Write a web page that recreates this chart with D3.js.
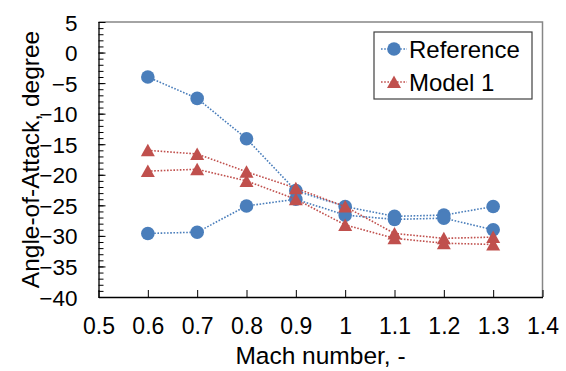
<!DOCTYPE html>
<html>
<head>
<meta charset="utf-8">
<script src="https://cdn.jsdelivr.net/npm/d3@7"></script>
<style>
  body { margin: 0; background: #fff; }
  svg text { font-family: "Liberation Sans", Arial, sans-serif; fill: #000; }
</style>
</head>
<body>
<div id="chart"></div>
<script>
// values
var mach = [0.6, 0.7, 0.8, 0.9, 1.0, 1.1, 1.2, 1.3];
var refUpper = [-4.0, -7.5, -14.1, -22.6, -25.2, -26.8, -26.6, -25.2];
var refLower = [-29.6, -29.4, -25.1, -24.0, -26.6, -27.3, -27.1, -29.0];
var modelUpper = [-16.0, -16.6, -19.5, -22.2, -25.2, -29.6, -30.4, -30.2];
var modelLower = [-19.4, -19.1, -21.0, -24.0, -28.2, -30.4, -31.2, -31.4];
var xTicks = [0.5, 0.6, 0.7, 0.8, 0.9, 1.0, 1.1, 1.2, 1.3, 1.4];
var yTicks = [5, 0, -5, -10, -15, -20, -25, -30, -35, -40];
var seriesNames = ["Reference", "Model 1"];

var width = 566, height = 371;
var pLeft = 98.5, pRight = 542.5, pTop = 22, pBottom = 297;
var blue = "#4A7EBB", red = "#C0504D";

var svg = d3.select("#chart").append("svg")
  .attr("width", width)
  .attr("height", height);

var x = d3.scaleLinear().domain([0.5, 1.4]).range([pLeft, pRight]);
var y = d3.scaleLinear().domain([-40, 5]).range([pBottom, pTop]);

// plot area border (top / right gray)
svg.append("path")
  .attr("d", "M" + pLeft + "," + pTop + "H" + pRight + "V" + pBottom)
  .attr("fill", "none")
  .attr("stroke", "#868686")
  .attr("stroke-width", 1.5);

// y axis: minor + major ticks pointing inside
var yMinor = d3.range(-40, 5.001, 1);
svg.append("g")
  .attr("transform", "translate(" + pLeft + ",0)")
  .call(d3.axisRight(y).tickValues(yMinor).tickSize(5).tickFormat(""))
  .call(function(g) { g.select(".domain").remove(); });

var yAxis = svg.append("g")
  .attr("transform", "translate(" + pLeft + ",0)")
  .call(d3.axisLeft(y).tickValues(yTicks).tickSizeInner(-7).tickSizeOuter(0).tickPadding(21)
    .tickFormat(d3.format("d")));
yAxis.selectAll("text").style("font-size", "22.5px").attr("dy", "0.36em");

var xAxis = svg.append("g")
  .attr("transform", "translate(0," + pBottom + ")")
  .call(d3.axisBottom(x).tickValues(xTicks).tickSizeInner(-7).tickSizeOuter(0).tickPadding(21)
    .tickFormat(function(d) { return String(+d.toFixed(1)); }));
xAxis.selectAll("text").style("font-size", "23px").attr("dy", "0.71em");

svg.selectAll(".domain").attr("stroke", "#000").attr("stroke-width", 1.3);
svg.selectAll(".tick line").attr("stroke", "#000").attr("stroke-width", 1);

// axis titles
svg.append("text")
  .attr("x", (pLeft + pRight) / 2)
  .attr("y", 364)
  .attr("text-anchor", "middle")
  .style("font-size", "24.5px")
  .text("Mach number, -");

svg.append("text")
  .attr("transform", "translate(38.5," + ((pTop + pBottom) / 2) + ") rotate(-90)")
  .attr("text-anchor", "middle")
  .style("font-size", "24.5px")
  .text("Angle-of-Attack, degree");

// lines
var line = d3.line()
  .x(function(d) { return x(d[0]); })
  .y(function(d) { return y(d[1]); });

function pairs(vals) {
  return mach.map(function(m, i) { return [m, vals[i]]; });
}

var series = [
  { color: blue, shape: "circle", branches: [refUpper, refLower] },
  { color: red, shape: "triangle", branches: [modelUpper, modelLower] }
];

var triPath = "M0,-6.5L7,6L-7,6Z";

series.forEach(function(s) {
  s.branches.forEach(function(b) {
    svg.append("path")
      .datum(pairs(b))
      .attr("d", line)
      .attr("fill", "none")
      .attr("stroke", s.color)
      .attr("stroke-width", 1.6)
      .attr("stroke-dasharray", "1.6,1.6");
  });
  s.branches.forEach(function(b) {
    var pts = svg.append("g").selectAll("g").data(pairs(b)).enter();
    if (s.shape === "circle") {
      pts.append("circle")
        .attr("cx", function(d) { return x(d[0]); })
        .attr("cy", function(d) { return y(d[1]); })
        .attr("r", 6.8)
        .attr("fill", s.color);
    } else {
      pts.append("path")
        .attr("transform", function(d) { return "translate(" + x(d[0]) + "," + y(d[1]) + ")"; })
        .attr("d", triPath)
        .attr("fill", s.color);
    }
  });
});

// legend
var lg = svg.append("g");
lg.append("rect")
  .attr("x", 374).attr("y", 32)
  .attr("width", 158).attr("height", 67)
  .attr("fill", "#fff")
  .attr("stroke", "#404040")
  .attr("stroke-width", 1.2);

seriesNames.forEach(function(name, i) {
  var s = series[i];
  var cy = 49 + i * 33;
  lg.append("line")
    .attr("x1", 381).attr("x2", 407)
    .attr("y1", cy).attr("y2", cy)
    .attr("stroke", s.color)
    .attr("stroke-width", 1.6)
    .attr("stroke-dasharray", "1.6,1.6");
  if (s.shape === "circle") {
    lg.append("circle").attr("cx", 394).attr("cy", cy).attr("r", 6.8).attr("fill", s.color);
  } else {
    lg.append("path").attr("transform", "translate(394," + cy + ")").attr("d", triPath).attr("fill", s.color);
  }
  lg.append("text")
    .attr("x", 409).attr("y", cy)
    .attr("dy", "0.36em")
    .style("font-size", "24px")
    .text(name);
});
</script>
</body>
</html>
